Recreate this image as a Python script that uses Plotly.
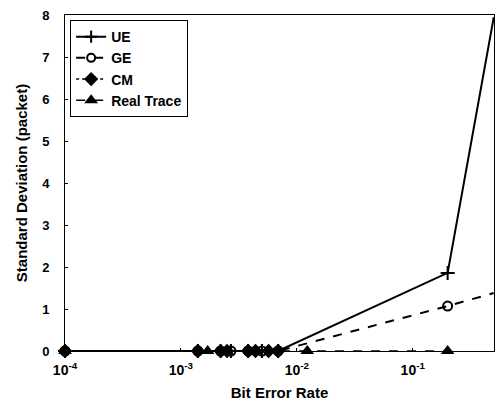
import plotly.graph_objects as go

# Data
ue_x = [1e-4, 1.4e-3, 2.2e-3, 2.7e-3, 3.8e-3, 5.0e-3, 6.9e-3, 0.2, 0.5]
ue_y = [0, 0, 0, 0, 0, 0, 0, 1.86, 7.95]

ge_x = [1e-4, 1.4e-3, 2.2e-3, 2.7e-3, 3.8e-3, 5.0e-3, 6.9e-3, 0.2, 0.5]
ge_y = [0, 0, 0, 0, 0, 0, 0, 1.07, 1.38]

cm_x = [1e-4, 1.4e-3, 2.2e-3, 2.5e-3, 3.8e-3, 4.4e-3, 5.7e-3, 6.9e-3]
cm_y = [0, 0, 0, 0, 0, 0, 0, 0]

rt_x = [1e-4, 1.7e-3, 2.5e-3, 4.4e-3, 0.0123, 0.2]
rt_y = [0, 0, 0, 0, 0, 0]

x_tickvals = [1e-4, 1e-3, 1e-2, 1e-1]
x_ticktext = ["10<sup>-4</sup>", "10<sup>-3</sup>", "10<sup>-2</sup>", "10<sup>-1</sup>"]
y_tickvals = [0, 1, 2, 3, 4, 5, 6, 7, 8]

FONT = "Liberation Sans, Arial, sans-serif"

# last points sit on the plot edge and show no marker in the reference
ue_sizes = [10] * (len(ue_x) - 1) + [0]
ge_sizes = [9] * (len(ge_x) - 1) + [0]

fig = go.Figure()
fig.add_trace(go.Scatter(x=ue_x, y=ue_y, name="UE", mode="lines+markers",
                         line=dict(color="black", width=2, dash="solid"),
                         marker=dict(symbol="cross-thin", size=ue_sizes, color="black", opacity=1,
                                     line=dict(color="black", width=2)),
                         cliponaxis=False))
fig.add_trace(go.Scatter(x=ge_x, y=ge_y, name="GE", mode="lines+markers",
                         line=dict(color="black", width=2, dash="dash"),
                         marker=dict(symbol="circle-open", size=ge_sizes, color="black", opacity=1,
                                     line=dict(color="black", width=2)),
                         cliponaxis=False))
fig.add_trace(go.Scatter(x=cm_x, y=cm_y, name="CM", mode="lines+markers",
                         line=dict(color="black", width=1.5, dash="dot"),
                         marker=dict(symbol="diamond", size=11, color="black"),
                         cliponaxis=False))
fig.add_trace(go.Scatter(x=rt_x, y=rt_y, name="Real Trace", mode="lines+markers",
                         line=dict(color="black", width=1.5, dash="dash"),
                         marker=dict(symbol="triangle-up", size=12, color="black"),
                         cliponaxis=False))
fig.update_layout(
    width=495, height=408,
    margin=dict(l=65, r=1, t=15, b=57, autoexpand=False),
    paper_bgcolor="white", plot_bgcolor="white",
    font=dict(family=FONT, size=13, color="black", weight="bold"),
    showlegend=True,
    legend=dict(x=0.012, y=0.985, xanchor="left", yanchor="top",
                bgcolor="white", bordercolor="black", borderwidth=1,
                font=dict(family=FONT, size=14, color="black", weight="bold"),
                tracegroupgap=0, itemwidth=30),
    xaxis=dict(type="log", range=[-4, -0.299], tickvals=x_tickvals, ticktext=x_ticktext,
               showgrid=False, zeroline=False, showline=True, linecolor="black", linewidth=1,
               mirror=True, ticks="inside", ticklen=3, tickcolor="black", automargin=False,
               ticklabelstandoff=6,
               tickfont=dict(family=FONT, size=14, color="black", weight="bold"),
               title=dict(text="Bit Error Rate", standoff=10,
                          font=dict(family=FONT, size=15, color="black", weight="bold"))),
    yaxis=dict(range=[0, 8], tickvals=y_tickvals, showgrid=False, zeroline=False,
               showline=True, linecolor="black", linewidth=1, mirror=True, automargin=False,
               ticks="inside", ticklen=3, tickcolor="black", ticklabelstandoff=12,
               tickfont=dict(family=FONT, size=13, color="black", weight="bold"),
               title=dict(text="Standard Deviation (packet)", standoff=10,
                          font=dict(family=FONT, size=15, color="black", weight="bold"))),
)
fig.write_html("out.html", config={"displayModeBar": False},
               post_script="document.body.style.margin='0';document.body.style.overflow='hidden';")
